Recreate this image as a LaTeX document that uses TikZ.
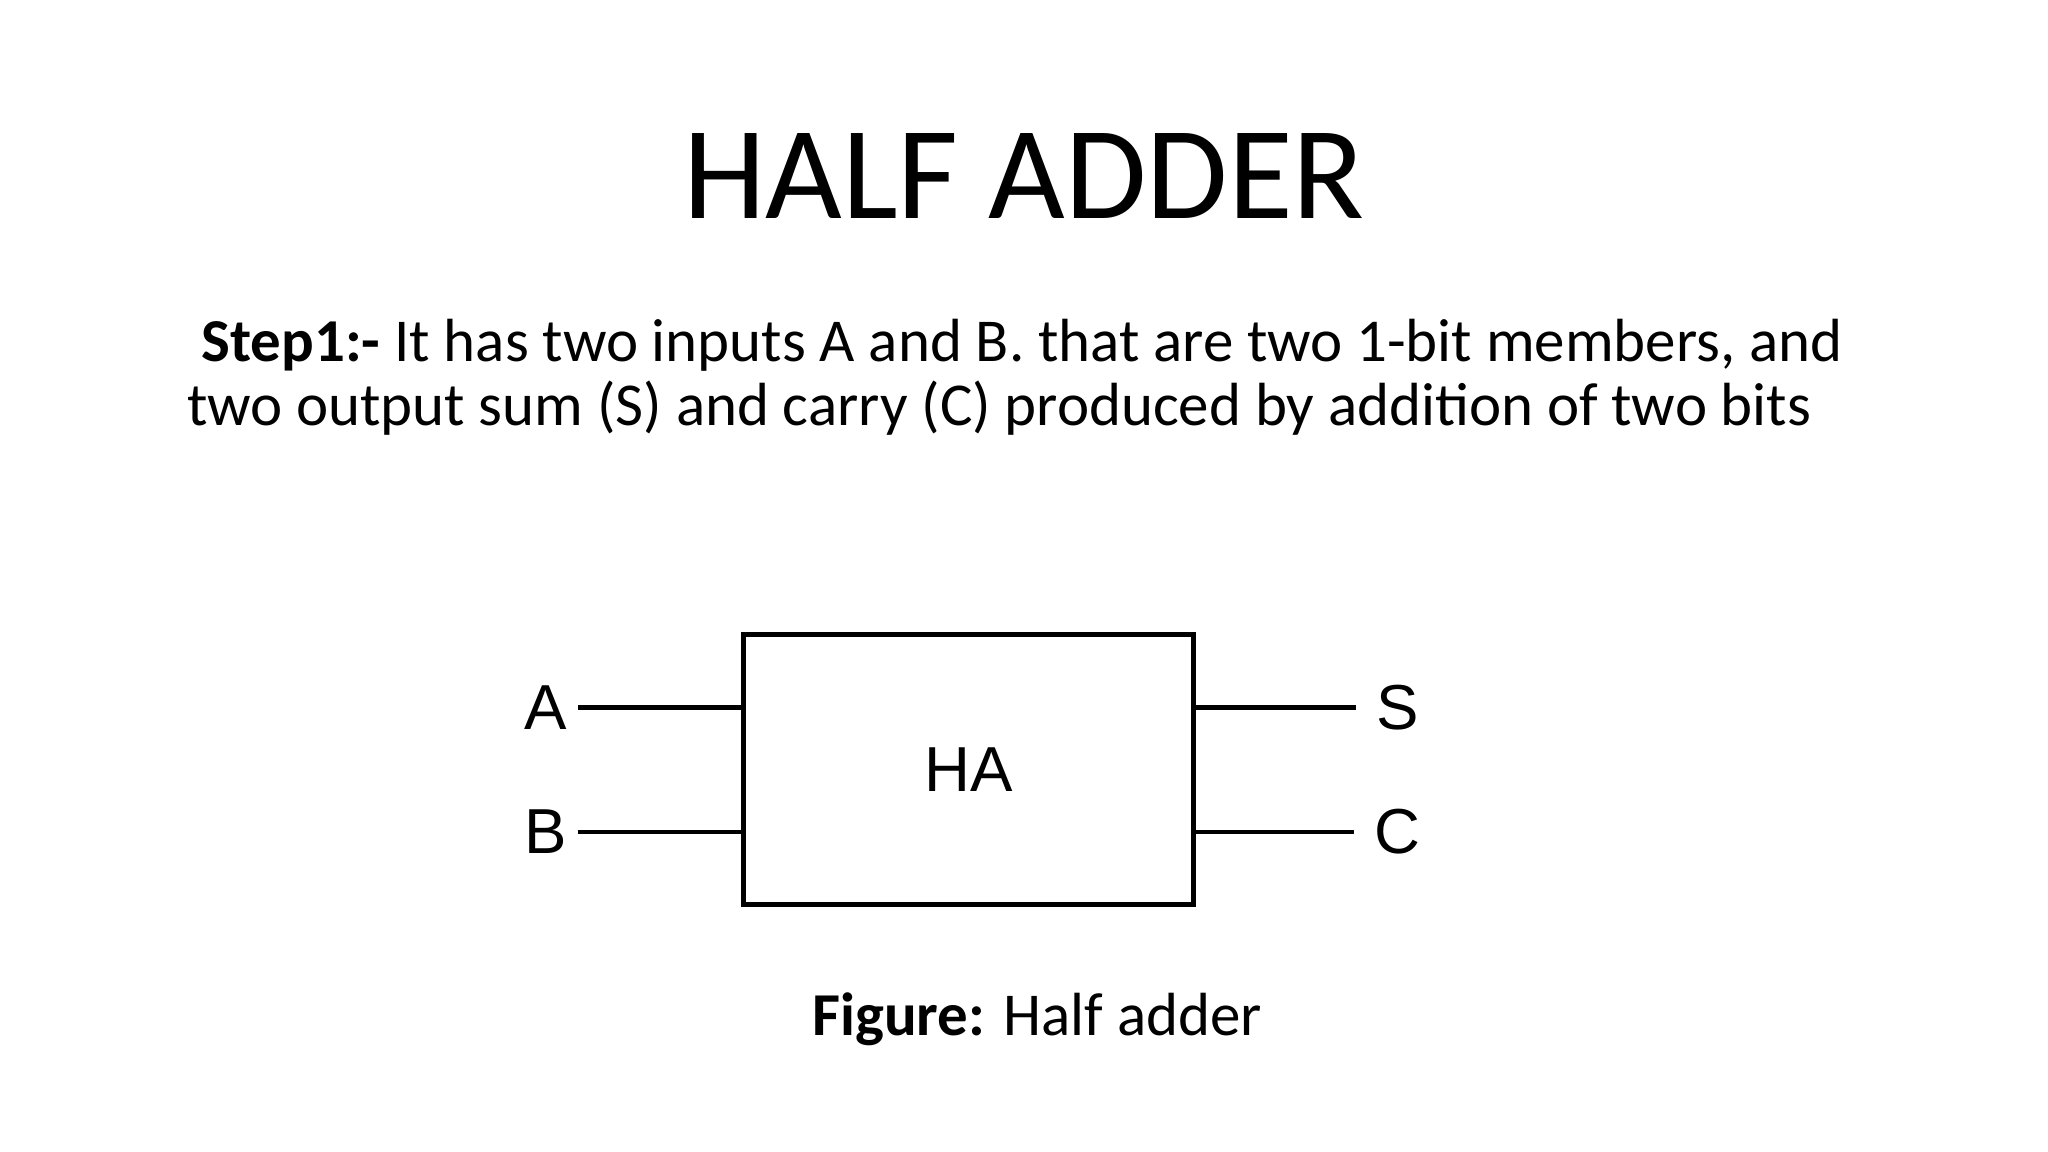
\documentclass[tikz,border=0pt]{standalone}
\usepackage{fontspec}
\setmainfont{Carlito}
\newfontfamily\helv{Liberation Sans}
\begin{document}
\begin{tikzpicture}[x=1pt,y=-1pt,
  lbl/.style={font=\helv\fontsize{48}{50}\selectfont, inner sep=0pt},
  wire/.style={line width=3.5pt}]
\useasboundingbox (0,0) rectangle (1546,869);
\node[anchor=base, inner sep=0pt, font=\fontsize{100}{110}\selectfont] (title) at (773,165) {HALF ADDER};
\node[anchor=base west, inner sep=0pt, font=\fontsize{46}{48}\selectfont] (l1) at (152,273) {\textbf{Step1:-} It has two inputs A and B. that are two 1-bit members, and};
\node[anchor=base west, inner sep=0pt, font=\fontsize{46}{48}\selectfont] (l2) at (141,321) {two output sum (S) and carry (C) produced by addition of two bits};
\node[draw, line width=4pt, minimum width=340pt, minimum height=204pt] (ha) at (731,581) {};
\node[lbl] (hal) at (731,581) {HA};
\node[lbl] (a) at (412,534) {A};
\node[lbl] (b) at (412,628) {B};
\node[lbl] (s) at (1055,534) {S};
\node[lbl] (c) at (1055,628) {C};
\coordinate (ain) at (ha.west |- a);
\coordinate (bin) at (ha.west |- b);
\coordinate (sout) at (ha.east |- s);
\coordinate (cout) at (ha.east |- c);
\draw[wire] (a.east)++(8,0) -- (ain);
\draw[wire] (b.east)++(8,0) -- (bin);
\draw[wire] (sout) -- ([xshift=-15pt]s.west);
\draw[wire] (cout) -- ([xshift=-15pt]c.west);
\node[anchor=base, inner sep=0pt, font=\fontsize{46}{48}\selectfont] (cap) at (783,782) {\textbf{Figure:} Half adder};
\end{tikzpicture}
\end{document}
